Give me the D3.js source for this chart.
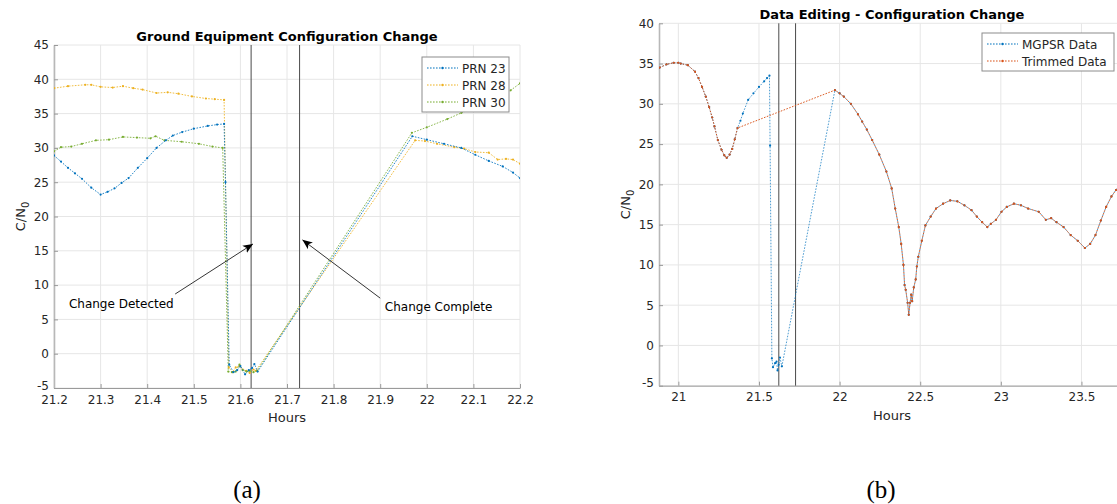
<!DOCTYPE html>
<html>
<head>
<meta charset="utf-8">
<script src="https://cdn.jsdelivr.net/npm/d3@7"></script>
<style>
  body { margin: 0; background: #fff; }
  svg { display: block; font-family: "DejaVu Sans", sans-serif; }
</style>
</head>
<body>
<svg id="chart" width="1117" height="504"></svg>
<script>
// ---- data (a): C/N0 per satellite, [hour, value]
const prn23 = [
  [21.200, 28.9], [21.215, 28.0], [21.230, 27.1], [21.245, 26.3], [21.260, 25.5],
  [21.280, 24.2], [21.300, 23.2], [21.315, 23.6], [21.330, 24.1], [21.345, 24.9],
  [21.360, 25.6], [21.380, 27.1], [21.400, 28.5], [21.420, 30.0], [21.440, 31.1],
  [21.455, 31.8], [21.475, 32.3], [21.500, 32.8], [21.530, 33.2], [21.550, 33.4],
  [21.565, 33.5], [21.568, 25.0], [21.576, -1.6], [21.585, -2.7], [21.593, -2.4],
  [21.600, -1.8], [21.610, -3.0], [21.618, -2.4], [21.625, -2.1], [21.630, -1.5],
  [21.637, -2.6], [21.969, 31.7], [22.000, 31.2], [22.037, 30.6], [22.074, 30.0],
  [22.104, 29.0], [22.133, 28.1], [22.163, 27.3], [22.185, 26.4], [22.200, 25.6]
];
const prn28 = [
  [21.200, 38.7], [21.230, 39.0], [21.267, 39.2], [21.280, 39.2], [21.300, 38.9],
  [21.326, 38.8], [21.348, 39.0], [21.370, 38.7], [21.390, 38.5], [21.420, 38.0],
  [21.444, 38.1], [21.467, 37.9], [21.496, 37.5], [21.526, 37.2], [21.545, 37.1],
  [21.565, 37.0], [21.575, -2.0], [21.583, -2.7], [21.590, -2.0], [21.598, -1.8],
  [21.605, -2.3], [21.613, -2.5], [21.620, -2.8], [21.628, -2.3], [21.633, -2.5],
  [21.975, 31.1], [21.996, 31.0], [22.022, 30.6], [22.059, 30.1], [22.080, 29.9],
  [22.104, 29.4], [22.133, 29.3], [22.152, 28.3], [22.170, 28.4], [22.185, 28.3],
  [22.200, 27.7]
];
const prn30 = [
  [21.200, 29.5], [21.215, 30.1], [21.237, 30.2], [21.260, 30.6], [21.290, 31.1],
  [21.318, 31.2], [21.348, 31.6], [21.378, 31.5], [21.407, 31.4], [21.418, 31.7],
  [21.437, 31.1], [21.474, 30.9], [21.511, 30.6], [21.540, 30.2], [21.562, 30.0],
  [21.574, -2.6], [21.582, -2.7], [21.590, -2.6], [21.598, -1.6], [21.605, -2.4],
  [21.613, -2.6], [21.620, -2.5], [21.628, -2.7], [21.636, -2.5], [21.968, 32.2],
  [22.000, 33.0], [22.044, 34.2], [22.074, 35.1], [22.119, 36.3], [22.156, 37.2],
  [22.180, 38.4], [22.200, 39.4]
];
const seriesNamesA = ["PRN 23", "PRN 28", "PRN 30"];

// ---- data (b): MGPSR data and trimmed data
const passStart = [
  [20.884, 34.5], [20.927, 34.9], [20.971, 35.1], [21.000, 35.1], [21.015, 35.0],
  [21.059, 34.8], [21.103, 34.0], [21.125, 33.2], [21.147, 32.1], [21.170, 30.9],
  [21.191, 29.6], [21.210, 28.3], [21.224, 27.2], [21.245, 25.5], [21.268, 24.3],
  [21.285, 23.6], [21.300, 23.3], [21.318, 23.7], [21.334, 24.4], [21.350, 25.6],
  [21.367, 27.0]
];
const changeWindow = [
  [21.385, 27.9], [21.400, 28.8], [21.433, 30.5], [21.466, 31.3], [21.500, 32.1],
  [21.532, 32.8], [21.550, 33.2], [21.565, 33.5], [21.569, 24.8], [21.580, -1.6],
  [21.587, -2.7], [21.600, -2.2], [21.609, -2.0], [21.615, -3.1], [21.622, -2.4],
  [21.630, -1.5], [21.642, -2.6]
];
const passEnd = [
  [21.971, 31.7], [22.000, 31.3], [22.026, 30.9], [22.070, 30.0], [22.114, 28.7],
  [22.140, 27.8], [22.169, 26.8], [22.202, 25.5], [22.246, 23.7], [22.290, 21.6],
  [22.323, 19.5], [22.345, 17.0], [22.367, 14.7], [22.382, 12.6], [22.396, 10.0],
  [22.403, 7.5], [22.410, 6.9], [22.422, 5.3], [22.429, 3.8], [22.437, 5.3],
  [22.444, 6.3], [22.450, 5.5], [22.460, 7.2], [22.472, 8.2], [22.479, 9.8],
  [22.488, 11.0], [22.510, 13.0], [22.532, 14.9], [22.565, 16.0], [22.598, 17.0],
  [22.642, 17.6], [22.686, 18.0], [22.730, 17.9], [22.774, 17.4], [22.818, 16.8],
  [22.851, 16.0], [22.884, 15.3], [22.916, 14.7], [22.938, 15.1], [22.970, 15.6],
  [23.004, 16.6], [23.037, 17.2], [23.081, 17.6], [23.125, 17.4], [23.169, 17.0],
  [23.235, 16.6], [23.279, 15.6], [23.312, 15.8], [23.345, 15.3], [23.389, 14.7],
  [23.433, 13.7], [23.477, 13.0], [23.521, 12.1], [23.554, 12.6], [23.587, 13.7],
  [23.620, 15.5], [23.653, 17.2], [23.686, 18.5], [23.714, 19.3], [23.740, 20.0]
];
const mgpsrData = passStart.concat(changeWindow, passEnd);
const trimmedData = passStart.concat(passEnd);
const seriesNamesB = ["MGPSR Data", "Trimmed Data"];

// configuration change markers (hours)
const changeHours = [21.623, 21.727];

// ticks
const hourTicksA = [21.2, 21.3, 21.4, 21.5, 21.6, 21.7, 21.8, 21.9, 22, 22.1, 22.2];
const cnTicksA = [-5, 0, 5, 10, 15, 20, 25, 30, 35, 40, 45];
const hourTicksB = [21, 21.5, 22, 22.5, 23, 23.5];
const cnTicksB = [-5, 0, 5, 10, 15, 20, 25, 30, 35, 40];

const BLUE = "#0072BD", ORANGE = "#D95319", YELLOW = "#EDB120", GREEN = "#77AC30";

const svg = d3.select("#chart");

svg.append("defs").append("marker")
  .attr("id", "arrow")
  .attr("viewBox", "0 0 10 10")
  .attr("refX", 10).attr("refY", 5)
  .attr("markerWidth", 10).attr("markerHeight", 10)
  .attr("markerUnits", "userSpaceOnUse")
  .attr("orient", "auto")
  .append("path")
  .attr("d", "M0,0.8L10,5L0,9.2L2.5,5Z")
  .attr("fill", "#000");

function panel(id, x, y, xTicks, yTicks, title) {
  const g = svg.append("g");
  const [x0, x1] = x.range();
  const [yb, yt] = y.range();

  svg.select("defs").append("clipPath").attr("id", "clip-" + id)
    .append("rect").attr("x", x0).attr("y", yt).attr("width", x1 - x0).attr("height", yb - yt);

  // grid
  g.append("g").selectAll("line").data(xTicks).join("line")
    .attr("x1", d => x(d)).attr("x2", d => x(d)).attr("y1", yb).attr("y2", yt)
    .attr("stroke", "#e6e6e6");
  g.append("g").selectAll("line").data(yTicks).join("line")
    .attr("x1", x0).attr("x2", x1).attr("y1", d => y(d)).attr("y2", d => y(d))
    .attr("stroke", "#e6e6e6");

  const xa = g.append("g").attr("transform", `translate(0,${yb})`)
    .call(d3.axisBottom(x).tickValues(xTicks).tickFormat(d => String(d))
      .tickSizeInner(-4).tickSizeOuter(0).tickPadding(7));
  const ya = g.append("g").attr("transform", `translate(${x0},0)`)
    .call(d3.axisLeft(y).tickValues(yTicks).tickFormat(d => String(d))
      .tickSizeInner(-4).tickSizeOuter(0).tickPadding(5));
  [xa, ya].forEach(a => {
    a.attr("font-family", null).attr("font-size", 12);
    a.selectAll("path, line").attr("stroke", "#9a9a9a");
    a.selectAll("text").attr("fill", "#262626");
  });
  ya.select(".domain").attr("stroke", "#b8b8b8").attr("stroke-width", 1.6);
  // lowest y label sits just above the first x label
  ya.selectAll(".tick text").filter(d => d === yTicks[0]).attr("dy", "0.1em");

  // title
  g.append("text")
    .attr("x", (x0 + Math.min(x1, 1125)) / 2).attr("y", yt - 4)
    .attr("text-anchor", "middle").attr("font-weight", "bold").attr("font-size", 13)
    .attr("fill", "#000").text(title);

  // axis labels
  g.append("text")
    .attr("x", (x0 + x1) / 2).attr("y", yb + 34)
    .attr("text-anchor", "middle").attr("font-size", 13).attr("fill", "#262626")
    .text("Hours");
  const yl = g.append("text")
    .attr("transform", `translate(${x0 - 29},${(yb + yt) / 2}) rotate(-90)`)
    .attr("text-anchor", "middle").attr("font-size", 13).attr("fill", "#262626");
  yl.append("tspan").text("C/N");
  yl.append("tspan").attr("font-size", 10).attr("dy", 4).text("0");

  // change markers
  g.append("g").selectAll("line").data(changeHours).join("line")
    .attr("x1", d => x(d)).attr("x2", d => x(d)).attr("y1", yb).attr("y2", yt)
    .attr("stroke", "#4a4a4a").attr("stroke-width", 1);

  return g.append("g").attr("clip-path", `url(#clip-${id})`);
}

function series(g, x, y, data, color, opacity) {
  const line = d3.line().x(d => x(d[0])).y(d => y(d[1]));
  g.append("path").datum(data)
    .attr("d", line).attr("fill", "none")
    .attr("stroke", color).attr("stroke-width", 1)
    .attr("stroke-dasharray", "1.6,1.4").attr("opacity", opacity);
  g.append("g").selectAll("circle").data(data).join("circle")
    .attr("cx", d => x(d[0])).attr("cy", d => y(d[1])).attr("r", 1.1)
    .attr("fill", color);
}

function legend(x0, y0, w, rowH, names, colors) {
  const g = svg.append("g");
  g.append("rect").attr("x", x0).attr("y", y0)
    .attr("width", w).attr("height", rowH * names.length + 4)
    .attr("fill", "#fff").attr("stroke", "#8c8c8c");
  names.forEach((n, i) => {
    const cy = y0 + 2 + rowH * (i + 0.5) + 0.5;
    g.append("line").attr("x1", x0 + 5).attr("x2", x0 + 36).attr("y1", cy).attr("y2", cy)
      .attr("stroke", colors[i]).attr("stroke-dasharray", "1.6,1.4");
    g.append("circle").attr("cx", x0 + 20.5).attr("cy", cy).attr("r", 1.2).attr("fill", colors[i]);
    g.append("text").attr("x", x0 + 40).attr("y", cy + 4.5)
      .attr("font-size", 12).attr("fill", "#262626").text(n);
  });
}

// ---- panel (a)
const xA = d3.scaleLinear().domain([21.2, 22.2]).range([54, 520]);
const yA = d3.scaleLinear().domain([-5, 45]).range([388, 45]);
const plotA = panel("a", xA, yA, hourTicksA, cnTicksA, "Ground Equipment Configuration Change");
series(plotA, xA, yA, prn28, YELLOW, 0.85);
series(plotA, xA, yA, prn30, GREEN, 0.85);
series(plotA, xA, yA, prn23, BLUE, 0.85);
legend(422, 57, 87, 17, seriesNamesA, [BLUE, YELLOW, GREEN]);

// annotations on (a)
const notes = [
  { text: "Change Detected", tx: 21.232, ty: 7.3, from: [21.46, 8.7], to: [21.627, 16.0] },
  { text: "Change Complete", tx: 21.91, ty: 6.9, from: [21.9, 8.1], to: [21.733, 16.6] }
];
notes.forEach(n => {
  svg.append("line")
    .attr("x1", xA(n.from[0])).attr("y1", yA(n.from[1]))
    .attr("x2", xA(n.to[0])).attr("y2", yA(n.to[1]))
    .attr("stroke", "#000").attr("stroke-width", 0.8)
    .attr("marker-end", "url(#arrow)");
  svg.append("text")
    .attr("x", xA(n.tx)).attr("y", yA(n.ty) + 4.5)
    .attr("font-size", 12).attr("fill", "#000").text(n.text);
});

// ---- panel (b)
const xB = d3.scaleLinear().domain([20.88, 23.77]).range([659, 1125]);
const yB = d3.scaleLinear().domain([-5, 40]).range([385.7, 23.3]);
const plotB = panel("b", xB, yB, hourTicksB, cnTicksB, "Data Editing - Configuration Change");
series(plotB, xB, yB, mgpsrData, BLUE, 0.7);
series(plotB, xB, yB, trimmedData, ORANGE, 0.95);
legend(982, 33, 132, 17, seriesNamesB, [BLUE, ORANGE]);

// ---- captions
const captions = [["(a)", 247], ["(b)", 881]];
svg.selectAll("text.caption").data(captions).join("text")
  .attr("class", "caption")
  .attr("x", d => d[1]).attr("y", 498)
  .attr("text-anchor", "middle")
  .attr("font-family", "'Liberation Serif', serif").attr("font-size", 25)
  .attr("fill", "#000").text(d => d[0]);
</script>
</body>
</html>
